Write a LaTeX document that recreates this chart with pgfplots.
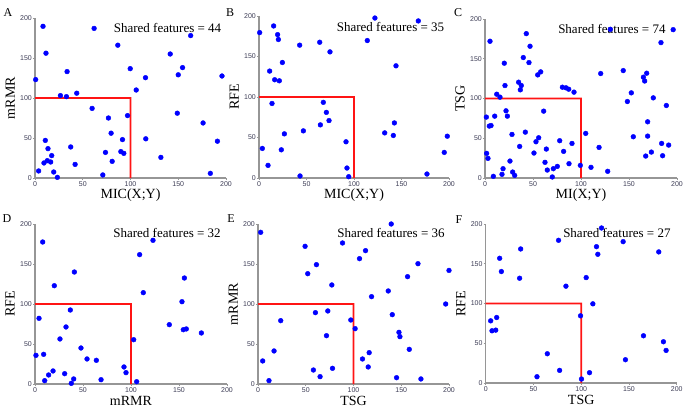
\documentclass[border=0pt]{standalone}
\usepackage{fontspec}
\setmainfont{Liberation Serif}
\newfontfamily\tickfont{Liberation Sans}
\usepackage{pgfplots}
\pgfplotsset{compat=1.18}
\definecolor{axgray}{RGB}{150,150,150}
\definecolor{ticktext}{RGB}{60,60,85}
\definecolor{ptblue}{RGB}{0,0,255}
\definecolor{redline}{RGB}{255,20,20}
\pgfplotsset{
  panel/.style={
    scale only axis, clip=false,
    xmin=0,xmax=200,ymin=0,ymax=200,
    axis x line*=bottom, axis y line*=left,
    xtick={0,50,100,150,200}, ytick={0,50,100,150,200},
    tick align=outside, major tick length=2pt,
    axis line style={axgray, line width=1.2pt},
    tick style={axgray, line width=0.8pt},
    ticklabel style={font=\tickfont\fontsize{7}{8}\selectfont, text=ticktext, inner sep=1pt},
    /pgf/number format/assume math mode=true,
    label style={font=\fontsize{14}{16}\selectfont},
    xlabel style={at={(axis description cs:0.5,-0.106)}, anchor=center},
    ylabel style={at={(axis description cs:-0.13,0.5)}, anchor=center},
  },
  pts/.style={only marks, mark=*, mark size=2.4pt, color=ptblue, mark options={draw=ptblue, fill=ptblue}},
  redL/.style={fill=redline, draw=none, mark=none},
}
\newcommand{\shared}[3]{\node[font=\fontsize{13}{15}\selectfont, anchor=center, inner sep=0pt] at (axis description cs:#1,#2) {Shared features = #3};}
% red L-shaped frame around the region x<=100, y<=100 (line about 1.8pt wide)
\newcommand{\redbox}{\addplot[redL] coordinates {(0,101.1)(100.95,101.1)(100.95,0)(99.05,0)(99.05,98.9)(0,98.9)} -- cycle;}
\begin{document}
\begin{tikzpicture}
\useasboundingbox (0,0) rectangle (700pt,410pt);
% A
\begin{axis}[panel, at={(35pt,232pt)}, anchor=south west, width=191pt, height=160pt, xlabel={MIC(X;Y)}, ylabel={mRMR}]
\redbox
\shared{0.694}{0.935}{44}
\addplot[pts] coordinates {(8.4,189.6)(61.9,187)(163,178)(86.7,166)(11.5,156)(141.6,155)(154.5,138)(99.7,136.7)(33.6,133)(150,129)(195.8,127.5)(115.7,125.4)(0.7,123)(106,110)(43.7,106)(26.6,103)(32.9,101.7)(59.8,87)(96.9,78)(149,81)(76.9,75)(176,68.8)(79.7,56)(116,49)(91.6,48)(10.8,47)(191,46)(37.4,38.8)(13.6,36.7)(73.8,32)(89.9,33)(93,30.8)(131.8,25.8)(17.5,28)(12.9,21.7)(9.4,18.8)(16.4,20)(80.8,20.8)(42,17)(3.8,8.8)(19.6,7.5)(23.4,0.8)(71,3.8)(183.6,5.8)};
\end{axis}
% B
\begin{axis}[panel, at={(259pt,232pt)}, anchor=south west, width=190pt, height=162pt, xlabel={MIC(X;Y)}, ylabel={RFE}]
\redbox
\shared{0.692}{0.93}{35}
\addplot[pts] coordinates {(0.7,179.5)(15.4,187.7)(122,197.5)(167.7,193.9)(19.6,177)(20.4,171)(114,169.7)(42.8,164)(63.9,167.6)(74.7,155.7)(24.6,142.6)(144.2,138.5)(11.2,132)(16.5,121.3)(21.4,120)(13.7,92)(67.7,93.4)(70.9,81)(73.7,70.9)(64.6,65.6)(46.7,58.2)(26.7,54.5)(132.3,55.7)(142.5,68)(141.4,52.5)(91.6,44.7)(198.2,51.6)(3.5,36.5)(23.5,34.8)(195,31.6)(9.5,15.6)(92.6,12.3)(176.8,4.9)(43.2,2.5)(94.4,1.6)};
\end{axis}
% C
\begin{axis}[panel, at={(485pt,232pt)}, anchor=south west, width=192pt, height=159pt, xlabel={MI(X;Y)}, ylabel={TSG}]
\redbox
\shared{0.661}{0.937}{74}
\addplot[pts] coordinates {(5.2,172)(43,181.6)(46.9,165.7)(196,186.6)(130.5,187)(39.9,151.5)(45.8,145.2)(20.1,144.4)(183.3,170.3)(144,135.1)(168.4,131.8)(120.5,131.4)(58,133.5)(54.9,129.7)(165,126.8)(166.3,122)(35,120.5)(37.8,116.3)(36.8,110.9)(20.8,116.3)(80.6,114.2)(84.4,113.4)(87.2,111.7)(92.7,108)(12.2,105.4)(15.6,101.7)(152.4,107.1)(175.3,100.8)(148.3,96.2)(188.9,91.2)(1.4,76.6)(10.1,77.8)(21.9,84.5)(23.3,77.8)(61.1,84.1)(4.5,65.3)(6.3,66)(169.4,70.7)(42,57.7)(28.1,54.8)(104.9,56.1)(55.9,50.6)(53.1,45.6)(154.5,51.9)(169.4,52.7)(77.8,46.9)(90.6,43.5)(36.1,39.7)(184,43.5)(191.3,41.4)(118.8,38.5)(63.9,36.4)(81.9,33.5)(51,31.4)(173.3,32.6)(167.4,27.6)(185,28)(1.7,31)(3.1,24.7)(26,21.3)(62.5,19.7)(87.5,18)(99.3,15.9)(75.3,14.6)(71.2,11.7)(110.4,13.4)(18.8,11.7)(64.9,10)(127.8,8.4)(28.8,7.5)(30.9,3.3)(17.7,4.6)(8.7,2.1)(70.1,1.3)};
\end{axis}
% D
\begin{axis}[panel, at={(35pt,26pt)}, anchor=south west, width=192pt, height=160pt, xlabel={mRMR}, ylabel={RFE}]
\redbox
\shared{0.6875}{0.944}{32}
\addplot[pts] coordinates {(8,177.5)(122.9,179.6)(109,161.7)(41,140)(155.6,132.5)(20.1,122.9)(112.8,114.2)(153.1,102.9)(36.8,92.5)(4.2,82.1)(32.3,71.3)(139.9,74.2)(154.5,67.9)(157.6,68.8)(173.3,63.8)(26,56.3)(102.8,55.4)(47.9,45)(9,37.1)(1,35.8)(54.2,31.3)(63.9,29.6)(92.7,21.3)(94.8,14.2)(18.8,16.3)(30.9,12.9)(14.2,11.3)(40.3,6.3)(68.8,5.4)(10.1,4.2)(37.8,0.8)(105.9,2.9)};
\end{axis}
% E
\begin{axis}[panel, at={(258pt,26pt)}, anchor=south west, width=191pt, height=160pt, xlabel={TSG}, ylabel={mRMR}]
\redbox
\shared{0.696}{0.944}{36}
\addplot[pts] coordinates {(2.8,189.6)(139.5,200)(88.5,176.3)(49.3,172.1)(112.6,166.7)(106.3,156.7)(167.5,150.4)(61.2,149.2)(200,142)(52.1,137.9)(156.6,134.2)(77.3,123.8)(136.4,116.3)(118.9,109.2)(196.5,100)(73.1,91.3)(60.1,89.2)(140.6,86.7)(97.2,80)(101.7,69.2)(23.8,79.2)(71.7,60.4)(147.6,64.6)(148.6,59.2)(158.4,43.3)(16.8,41.3)(116.4,39.2)(109.4,31.3)(4.9,28.8)(115.4,21.3)(78,19.6)(58,17.5)(65,9.2)(145.1,7.9)(170.6,6.3)(11.5,4.2)};
\end{axis}
% F
\begin{axis}[panel, at={(485.7pt,27pt)}, anchor=south west, width=191pt, height=159pt, xlabel={TSG}, ylabel={RFE}]
\redbox
\shared{0.687}{0.943}{27}
\addplot[pts] coordinates {(121.3,195)(76.3,179.5)(143.9,177.8)(36.6,168.6)(116,171.5)(117.4,161.9)(181.2,164.9)(14.6,156.9)(16.4,140.2)(35.5,131.8)(105.2,132.6)(84,121.8)(112.2,99.6)(99.3,84.5)(11.5,82.4)(5.2,78.2)(6.6,65.7)(10.5,66.5)(165.2,59.4)(186.1,51.9)(188.9,41)(64.5,36.8)(146.3,29.3)(77.4,15.9)(108.7,13)(53.7,7.9)(100.3,5)};
\end{axis}
% panel letters
\begin{scope}[every node/.style={font=\fontsize{12}{14}\selectfont, inner sep=0pt}]
\node at (8pt,397pt) {A};
\node at (230pt,397pt) {B};
\node at (458pt,397pt) {C};
\node at (7pt,191pt) {D};
\node at (231pt,191pt) {E};
\node at (459pt,190pt) {F};
\end{scope}
\end{tikzpicture}
\end{document}
